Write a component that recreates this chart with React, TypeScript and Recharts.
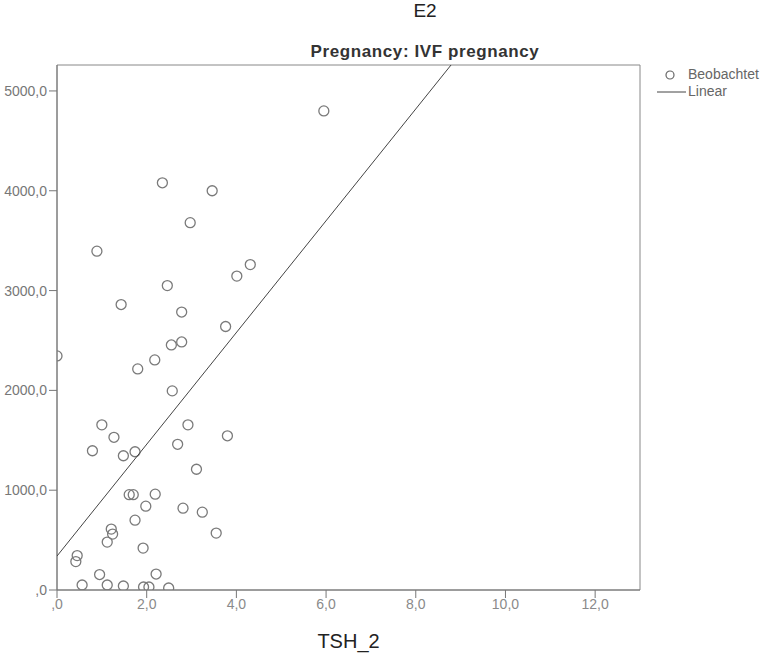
import { ReferenceArea, Scatter, ScatterChart, XAxis, YAxis } from "recharts";

// TSH_2 (x) and E2 (y) for each observed case
const tshValues = [
  5.95, 2.35, 3.46, 2.97, 0.89, 4.31, 4.01, 2.46, 1.43, 2.78, 3.76, 0.0,
  2.55, 2.78, 2.18, 1.8, 2.57, 1.0, 2.92, 1.27, 3.8, 0.79, 1.48, 1.74,
  2.69, 3.11, 1.61, 1.7, 2.19, 1.98, 2.81, 3.24, 3.55, 1.74, 1.21, 1.24,
  1.12, 1.92, 0.45, 0.42, 0.95, 2.21, 0.56, 1.12, 1.48, 1.93, 2.05, 2.49,
];
const e2Values = [
  4800, 4080, 4000, 3680, 3395, 3260, 3145, 3050, 2860, 2785, 2640, 2345,
  2455, 2485, 2305, 2215, 1995, 1655, 1655, 1530, 1545, 1395, 1345, 1385,
  1460, 1210, 955, 955, 960, 840, 820, 780, 570, 700, 610, 560,
  480, 420, 345, 285, 155, 160, 50, 50, 40, 30, 30, 20,
];

// linear fit, start and end
const fitX = [0, 8.79];
const fitY = [340, 5262];

const xTicks = [0, 2, 4, 6, 8, 10, 12];
const yTicks = [0, 1000, 2000, 3000, 4000, 5000];

const observed = tshValues.map((x, i) => ({ x, y: e2Values[i] }));
const fitLine = fitX.map((x, i) => ({ x, y: fitY[i] }));

const fmt = (v: number) => (v === 0 ? ",0" : v.toFixed(1).replace(".", ","));

const font = "'Liberation Sans', Arial, sans-serif";

const OpenCircle = (props: any) => (
  <circle cx={props.cx} cy={props.cy} r={5} fill="none" stroke="#7a7a7a" strokeWidth={1.3} />
);

export default function App() {
  return (
    <div style={{ position: "absolute", left: 0, top: 0, width: 764, height: 654, background: "#fff" }}>
      <ScatterChart width={764} height={654} margin={{ top: 65, right: 124, bottom: 0, left: 7 }}>
        <XAxis
          type="number"
          dataKey="x"
          domain={[0, 13]}
          ticks={xTicks}
          tickFormatter={fmt}
          allowDataOverflow
          height={64}
          tickSize={8}
          tickMargin={1}
          stroke="#777"
          tick={{ fill: "#8a8a8a", fontSize: 14, fontFamily: font }}
          label={{ value: "TSH_2", position: "insideBottom", offset: 6, fill: "#222", fontSize: 20, fontFamily: font }}
        />
        <YAxis
          type="number"
          dataKey="y"
          domain={[0, 5260]}
          ticks={yTicks}
          tickFormatter={fmt}
          allowDataOverflow
          width={50}
          tickSize={8}
          tickMargin={2}
          stroke="#777"
          tick={{ fill: "#777", fontSize: 14, fontFamily: font }}
        />
        <ReferenceArea x1={0} x2={13} y1={0} y2={5260} fill="none" stroke="#888" strokeWidth={1} ifOverflow="visible" />
        <Scatter data={observed} shape={OpenCircle} isAnimationActive={false} />
        <Scatter data={fitLine} line={{ stroke: "#444", strokeWidth: 1 }} shape={() => <g />} isAnimationActive={false} />
      </ScatterChart>

      <svg width={764} height={65} style={{ position: "absolute", left: 0, top: 0, pointerEvents: "none" }}>
        <text x={425} y={17} textAnchor="middle" fontFamily={font} fontSize={19} fill="#222">E2</text>
        <text x={425} y={57} textAnchor="middle" fontFamily={font} fontSize={17} fontWeight="bold" letterSpacing={0.6} fill="#333">
          Pregnancy: IVF pregnancy
        </text>
      </svg>

      <div style={{ position: "absolute", left: 657, top: 66, fontFamily: font, fontSize: 14, color: "#666", lineHeight: "17px" }}>
        <div style={{ display: "flex", alignItems: "center" }}>
          <svg width={30} height={12}>
            <circle cx={13} cy={6} r={4} fill="none" stroke="#666" strokeWidth={1.2} />
          </svg>
          <span style={{ marginLeft: 1 }}>Beobachtet</span>
        </div>
        <div style={{ display: "flex", alignItems: "center" }}>
          <svg width={30} height={12}>
            <line x1={0} y1={6} x2={29} y2={6} stroke="#444" strokeWidth={1} />
          </svg>
          <span style={{ marginLeft: 1 }}>Linear</span>
        </div>
      </div>
    </div>
  );
}
